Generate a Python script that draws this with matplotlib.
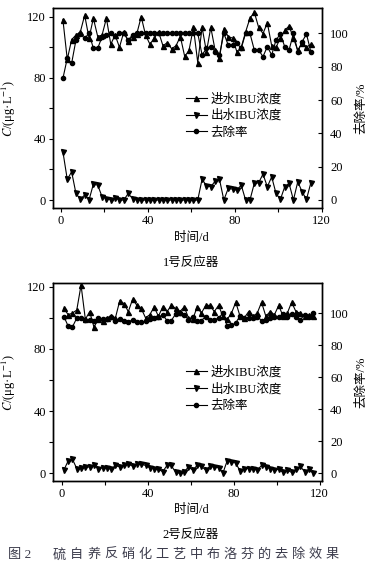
import matplotlib
matplotlib.use("Agg")
import matplotlib.pyplot as plt
import numpy as np

plt.rcParams['font.family'] = ['Liberation Serif', 'Noto Sans CJK SC', 'DejaVu Sans']
plt.rcParams['mathtext.fontset'] = 'stix'

# ---------------- data ----------------
days1 = list(range(1, 116, 2))
inf1 = [118, 92, 105, 108, 110, 121, 106, 119, 107, 108,
        119, 102, 108, 100, 110, 104, 107, 109, 120, 108,
        102, 106, 110, 101, 103, 99, 101, 107, 94, 98,
        113, 90, 113, 97, 113, 98, 93, 112, 107, 106,
        97, 100, 110, 119, 123, 113, 109, 116, 101, 100,
        106, 111, 114, 106, 98, 103, 100, 102]
eff1 = [31.6, 13.5, 18.5, 4.3, 0.5, 3.3, 0, 10.4, 9.8, 2.2,
        1, 0, 1.5, 0, 0, 4.3, 1,
        0, 0, 0, 0, 0, 0, 0, 0, 0, 0, 0, 0, 0, 0, 0,
        13.7, 9.3, 8.7, 12.4, 13.5, 0, 7.6, 7.2, 6.5, 9.8,
        0, 0, 10.9, 11.3, 17, 8.7, 15.2, 4.3, 0.4, 8.7,
        10.9, 0, 12, 5.4, 0.4, 11.3]
rem1 = [73, 85, 82, 96, 99.5, 97, 100, 91, 91, 98,
        99, 100, 98.6, 100, 100, 96, 99,
        100, 100, 100, 100, 100, 100, 100, 100, 100, 100, 100, 100, 100, 100, 100,
        87, 91, 92, 89, 87, 100, 93, 93, 94, 91,
        100, 100, 90, 90, 86, 92, 87, 96, 99.6, 92,
        90, 100, 89, 95, 99.6, 89]

days2 = list(range(1, 118, 2))
inf2 = [106, 102, 103, 105, 121, 99, 104, 94, 99, 98,
        100, 101, 100, 111, 109, 104, 112, 108, 106, 100,
        102, 107, 101, 107, 104, 108, 106, 104, 107, 100,
        99, 107, 103, 108, 108, 104, 108, 101, 99, 103,
        110, 101, 100, 104, 101, 103, 110, 101, 104, 102,
        108, 101, 103, 110, 104, 103, 101, 102, 101]
eff2 = [2, 8, 9, 3, 3.5, 4, 4, 5, 3, 3.5,
        3.5, 2.5, 5, 4, 5, 6, 4.5, 6, 6, 5,
        3.5, 3, 2.5, 1, 5, 5, 0.5, 0, 1, 4,
        2, 5, 4.5, 2, 4.5, 4, 3.5, 0, 8, 7.5,
        6.5, 1.5, 3, 3, 3, 2, 5, 4, 3, 2,
        2.5, 0.5, 2, 0.5, 2.5, 4.5, 1, 2.5, 0]
rem2 = [98, 92, 91.5, 97, 97, 96, 96, 95, 97, 96.5,
        96.5, 97.5, 95, 96.5, 95.5, 94.5, 96, 94.5, 94.5, 95,
        96.5, 97, 97.5, 99, 95.5, 95.5, 99.5, 100, 99, 96,
        98, 95.5, 95.5, 98, 96, 96, 97, 100, 92, 92.5,
        94, 98.5, 97, 97, 97, 98, 95.5, 96, 97, 98,
        97.5, 99.5, 98, 99.5, 97.5, 96, 99, 97.5, 100]

labels = ['进水IBU浓度', '出水IBU浓度', '去除率']
xlabel = '时间/d'
titles = ['1号反应器', '2号反应器']
ylab_left = r'$C$/(μg·L$^{-1}$)'
ylab_right = '去除率/%'
caption_head = '图 2'
caption_body = '硫自养反硝化工艺中布洛芬的去除效果'

W, H = 374, 569
fig = plt.figure(figsize=(W / 100, H / 100), dpi=100)

FS = 9
lw = 0.8
ms = 3.6


def make_panel(rect, days, inf, eff, rem, xlim, ylim_l, ylim_r, leg_y, title, title_y, xl_y):
    ax = fig.add_axes(rect)
    ax2 = ax.twinx()
    l1, = ax.plot(days, inf, '-^', color='black', lw=lw, ms=ms, label=labels[0])
    l2, = ax.plot(days, eff, '-v', color='black', lw=lw, ms=ms, label=labels[1])
    l3, = ax2.plot(days, rem, '-o', color='black', lw=lw, ms=ms - 0.6, label=labels[2])
    ax.set_xlim(*xlim)
    ax.set_ylim(*ylim_l)
    ax2.set_ylim(*ylim_r)
    ax.set_xticks(np.arange(0, 121, 20))
    ax.set_xticklabels([str(v) if v % 40 == 0 else '' for v in range(0, 121, 20)])
    ax.set_yticks(np.arange(0, 121, 20))
    ax.set_yticklabels([str(v) if v % 40 == 0 else '' for v in range(0, 121, 20)])
    ax2.set_yticks(np.arange(0, 101, 20))
    for a in (ax, ax2):
        a.tick_params(labelsize=FS, length=3, width=0.8, direction='out', pad=2)
        for s in a.spines.values():
            s.set_linewidth(1.0)
    ax2.tick_params(axis='y', direction='in', length=3, pad=6)
    ax.set_ylabel(ylab_left, fontsize=FS)
    ax.yaxis.set_label_coords(-0.128, 0.5)
    ax2.set_ylabel(ylab_right, fontsize=FS)
    ax2.yaxis.set_label_coords(1.125, 0.5)
    ax2.legend(handles=[l1, l2, l3], loc='upper left', bbox_to_anchor=(0.495, leg_y),
               frameon=False, fontsize=FS, handlelength=1.7, handletextpad=0.25,
               labelspacing=0.35, borderpad=0, borderaxespad=0)
    fig.text(191 / W, 1 - xl_y / H, xlabel, ha='center', va='center', fontsize=FS)
    fig.text(191 / W, 1 - title_y / H, title, ha='center', va='center', fontsize=FS)
    return ax, ax2


make_panel([52.7 / W, 1 - 208 / H, 269 / W, 200 / H], days1, inf1, eff1, rem1,
           (-3.7, 119.4), (-5.2, 125.7), (-4.8, 115.2), 0.575, titles[0], 263, 238)
make_panel([52.7 / W, 1 - 481 / H, 269 / W, 197.7 / H], days2, inf2, eff2, rem2,
           (-4.2, 121), (-5, 122.2), (-4.8, 118.75), 0.58, titles[1], 535, 510)

cap_color = '#3c3c4c'
fig.text(8 / W, 1 - 555 / H, caption_head, ha='left', va='center', fontsize=9.5, color=cap_color)
for i, ch in enumerate(caption_body):
    fig.text((53 + 17.06 * i) / W, 1 - 555 / H, ch, ha='left', va='center', fontsize=9.5, color=cap_color)

fig.savefig('out.png', dpi=100)
